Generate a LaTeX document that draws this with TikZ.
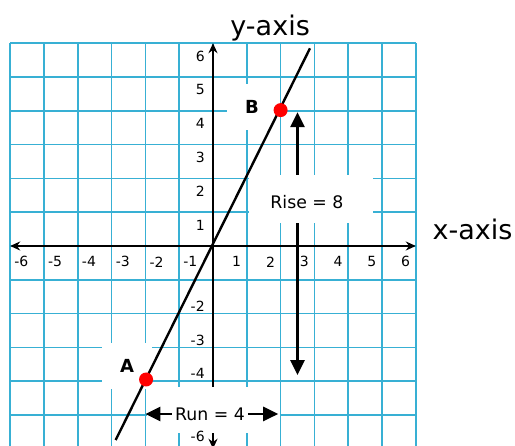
\documentclass[tikz,border=0pt]{standalone}
\usepackage{fontspec}
\setmainfont{DejaVu Sans}
\usetikzlibrary{arrows.meta}
\definecolor{gridc}{RGB}{56,176,212}
\begin{document}
\begin{tikzpicture}[x=33.8pt,y=33.8pt,
  gridline/.style={draw=gridc, line width=1.6pt},
  axisline/.style={line width=2.2pt, {Stealth[length=10pt,width=9pt]}-{Stealth[length=10pt,width=9pt]}},
  ticklbl/.style={inner sep=0pt, font=\fontsize{14}{16}\selectfont},
  bigarrow/.style={line width=2.6pt, -{Triangle[length=15pt,width=14pt]}},
  whitebox/.style={fill=white, draw=none, inner sep=0pt},
  ptlabel/.style={whitebox, font=\fontsize{18}{20}\selectfont\bfseries, minimum width=50pt, minimum height=46pt},
  midlabel/.style={inner sep=3pt, font=\fontsize{17.3}{20}\selectfont},
  axtitle/.style={inner sep=0pt, anchor=base, font=\fontsize{27}{30}\selectfont},
  ptdot/.style={circle, fill=red, inner sep=0pt, minimum size=14pt}
]
\useasboundingbox (-6.302,-5.888) rectangle (8.935,7.278);
% grid
\foreach \i in {-6,...,6} {
  \draw[gridline] (\i,-6) -- (\i,6);
  \draw[gridline] (-6,\i) -- (6,\i);
}
% axes
\coordinate (xl) at (-6,0);
\coordinate (xr) at (6,0);
\coordinate (yb) at (0,-6);
\coordinate (yt) at (0,6);
\draw[axisline] (xl) -- (xr);
\draw[axisline] (yb) -- (yt);
% tick labels
\foreach \k in {1,...,6} {
  \node[ticklbl] (xp\k) at (\k-0.3,-0.47) {\k};
  \node[ticklbl] (xn\k) at (-\k+0.33,-0.47) {-\k};
  \node[ticklbl, anchor=east] (yp\k) at (-0.24,\k-0.38) {\k};
}
\foreach \k in {2,3,4} {
  \node[ticklbl, anchor=east] (yn\k) at (-0.24,-\k+0.22) {-\k};
}
% titles
\node[axtitle] (ytitle) at (1.69,6.24) {y-axis};
\node[axtitle] (xtitle) at (7.68,0.18) {x-axis};
% rise arrow
\coordinate (riseTop) at (2.5,3.96);
\coordinate (riseBot) at (2.5,-3.82);
\node[whitebox, minimum width=124pt, minimum height=48pt] (risebox) at (2.90,1.39) {};
\node[midlabel] (rise) at (2.78,1.30) {Rise = 8};
\draw[bigarrow] (riseTop |- risebox.north) -- (riseTop);
\draw[bigarrow] (riseBot |- risebox.south) -- (riseBot);
% run
\node[whitebox, minimum width=133pt, minimum height=46pt] (runbox) at (0,-4.85) {};
\node[midlabel] (run) at (-0.09,-4.97) {Run = 4};
\coordinate (runL) at (-2,-4.97);
\coordinate (runR) at (1.93,-4.97);
\node[ticklbl, anchor=east] (yn6) at (-0.24,-5.62) {-6};
% point labels
\node[ptlabel] (Blbl) at (1.154,4.12) {B};
\node[ptlabel] (Albl) at (-2.544,-3.55) {A};
% slope line
\coordinate (lineBot) at (-2.88,-5.74);
\coordinate (lineTop) at (2.87,5.85);
\draw[line width=2.4pt] (lineBot) -- (lineTop);
% points
\node[ptdot] (A) at (-1.98,-3.95) {};
\node[ptdot] (B) at (2.0,4.02) {};
% run arrows
\draw[bigarrow] (run.west) -- (runL);
\draw[bigarrow] (run.east) -- (runR);
\end{tikzpicture}
\end{document}
